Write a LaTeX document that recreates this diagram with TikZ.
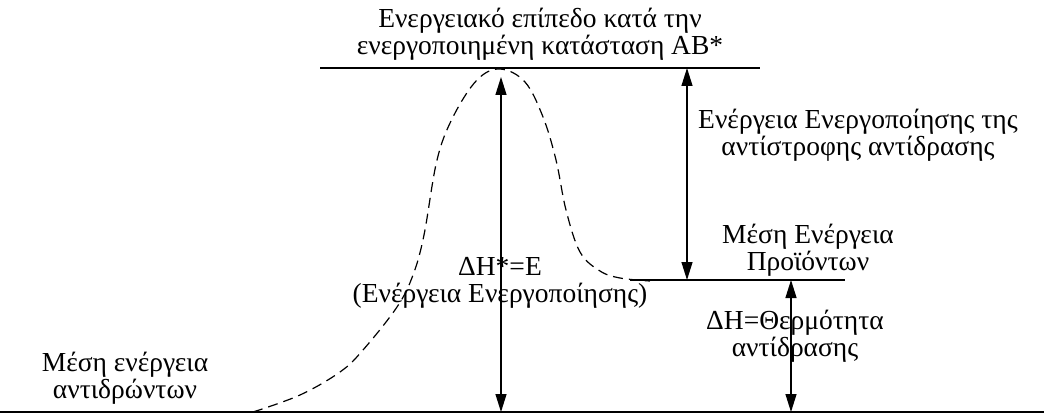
\documentclass[tikz,border=0pt]{standalone}
\usepackage{fontspec}
\setmainfont{Liberation Serif}
\usetikzlibrary{arrows.meta}
\tikzset{
  lvl/.style={line width=1.3pt},
  dbl/.style={line width=1.3pt,{Triangle[length=18pt,width=11pt]}-{Triangle[length=18pt,width=11pt]}},
  lbl/.style={align=center,inner sep=0pt,font=\fontsize{27.5}{27.5}\selectfont},
  curve/.style={line width=1.2pt,dash pattern=on 10pt off 6pt}
}
\begin{document}
\begin{tikzpicture}[x=1pt,y=-1pt]
\useasboundingbox (0,0) rectangle (1044,414);
% levels
\coordinate (t1) at (320,68);  \coordinate (t2) at (760,68);
\coordinate (p1) at (630,280); \coordinate (p2) at (845,280);
\coordinate (b1) at (0,412);   \coordinate (b2) at (1044,412);
\draw[lvl] (t1) -- (t2);
\draw[lvl] (p1) -- (p2);
\draw[lvl] (b1) -- (b2);
% arrows
\coordinate (a1t) at (501,77);  \coordinate (a1b) at (501,412);
\coordinate (a2t) at (687,68);  \coordinate (a2b) at (687,280);
\coordinate (a3t) at (791,280); \coordinate (a3b) at (791,412);
\draw[dbl] (a1b) -- (a1t);
\draw[dbl] (a2b) -- (a2t);
\draw[dbl] (a3b) -- (a3t);
% curve
\draw[curve] plot[smooth,tension=0.6] coordinates {(253,412) (300,395) (340,372) (363,350) (397,307) (413,275) (424,235) (437,160) (453,117) (477,80) (500,69) (525,82) (543,117) (556,160) (566,210) (580,252) (600,271) (620,278) (650,281)};
% labels
\node[lbl] (top) at (540,34) {Ενεργειακό επίπεδο κατά την\\ενεργοποιημένη κατάσταση ΑΒ*};
\node[lbl] (rev) at (858,135) {Ενέργεια Ενεργοποίησης της\\αντίστροφης αντίδρασης};
\node[lbl] (prod) at (808,250) {Μέση Ενέργεια\\Προϊόντων};
\node[lbl] (ea) at (500,283) {ΔΗ*=Ε\\(Ενέργεια Ενεργοποίησης)};
\node[lbl] (dh) at (795,336) {ΔΗ=Θερμότητα\\αντίδρασης};
\node[lbl] (reac) at (125,378) {Μέση ενέργεια\\αντιδρώντων};
\end{tikzpicture}
\end{document}
